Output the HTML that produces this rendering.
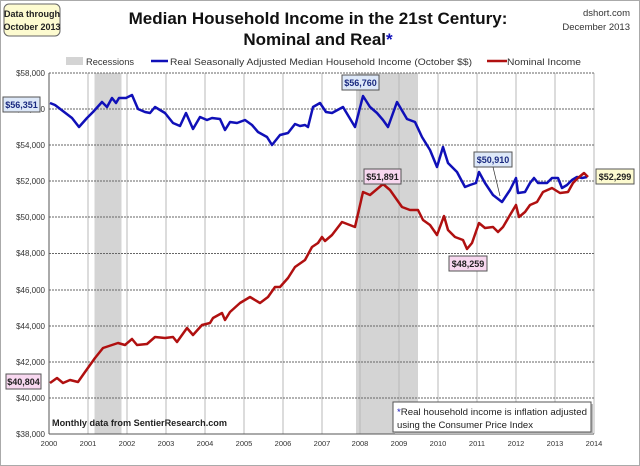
<!DOCTYPE html>
<html><head><meta charset="utf-8"><style>
body{margin:0;background:#fff}
svg{display:block;font-family:"Liberation Sans",sans-serif}
</style></head><body>
<svg width="640" height="466" viewBox="0 0 640 466">
<rect x="0.5" y="0.5" width="639" height="465" fill="#fff" stroke="#aaa"/>
<rect x="94.5" y="73" width="27" height="361" fill="#d4d4d4"/>
<rect x="356" y="73" width="62" height="361" fill="#d4d4d4"/>
<g stroke="#b8b8b8" stroke-width="1">
<line x1="88" y1="73" x2="88" y2="434"/><line x1="127" y1="73" x2="127" y2="434"/><line x1="166" y1="73" x2="166" y2="434"/><line x1="205" y1="73" x2="205" y2="434"/><line x1="244" y1="73" x2="244" y2="434"/><line x1="283" y1="73" x2="283" y2="434"/><line x1="322" y1="73" x2="322" y2="434"/><line x1="360" y1="73" x2="360" y2="434"/><line x1="399" y1="73" x2="399" y2="434"/><line x1="438" y1="73" x2="438" y2="434"/><line x1="477" y1="73" x2="477" y2="434"/><line x1="516" y1="73" x2="516" y2="434"/><line x1="555" y1="73" x2="555" y2="434"/><line x1="594" y1="73" x2="594" y2="434"/>
</g>
<g stroke="#666" stroke-width="1" stroke-dasharray="2,1">
<line x1="49" y1="73" x2="594" y2="73"/><line x1="49" y1="109" x2="594" y2="109"/><line x1="49" y1="145" x2="594" y2="145"/><line x1="49" y1="181" x2="594" y2="181"/><line x1="49" y1="217" x2="594" y2="217"/><line x1="49" y1="253.5" x2="594" y2="253.5"/><line x1="49" y1="290" x2="594" y2="290"/><line x1="49" y1="326" x2="594" y2="326"/><line x1="49" y1="362" x2="594" y2="362"/><line x1="49" y1="398" x2="594" y2="398"/>
</g>
<line x1="49" y1="434" x2="594" y2="434" stroke="#555"/>
<line x1="49" y1="73" x2="49" y2="434" stroke="#555"/>
<g font-size="8" fill="#333" text-anchor="end">
<text x="45" y="76">$58,000</text><text x="45" y="112">$56,000</text><text x="45" y="148">$54,000</text><text x="45" y="184">$52,000</text><text x="45" y="220">$50,000</text><text x="45" y="256">$48,000</text><text x="45" y="293">$46,000</text><text x="45" y="329">$44,000</text><text x="45" y="365">$42,000</text><text x="45" y="401">$40,000</text><text x="45" y="437">$38,000</text>
</g>
<g font-size="7.5" fill="#333" text-anchor="middle">
<text x="49" y="446">2000</text><text x="88" y="446">2001</text><text x="127" y="446">2002</text><text x="166" y="446">2003</text><text x="205" y="446">2004</text><text x="244" y="446">2005</text><text x="283" y="446">2006</text><text x="322" y="446">2007</text><text x="360" y="446">2008</text><text x="399" y="446">2009</text><text x="438" y="446">2010</text><text x="477" y="446">2011</text><text x="516" y="446">2012</text><text x="555" y="446">2013</text><text x="594" y="446">2014</text>
</g>
<polyline fill="none" stroke="#1010b8" stroke-width="2.5" stroke-linejoin="round" points="50,103 55,105 72,118 79,127 87,118 93,112 102,102 107,107 112,98 116,103 119,98 126,98 132,95 138,109 145,112 150,113 155,107 165,113 173,123 180,126 186,113 193,129 200,117 207,120 212,118 220,119 225,130 230,122 237,123 245,120 252,125 258,132 267,137 272,145 280,135 288,133 295,124 300,126 305,125 308,127 313,107 320,103 326,112 332,113 343,107 355,127 363,96 370,107 377,113 383,120 388,127 397,102 407,119 415,122 422,137 430,150 437,167 443,147 448,163 457,172 465,187 470,185 476,183 479,172 485,183 493,195 502,202 510,190 516,178 518,193 525,192 530,183 534,178 538,183 547,183 552,178 558,178 562,188 567,185 572,180 577,177 582,178 587,177"/>
<polyline fill="none" stroke="#b01010" stroke-width="2.5" stroke-linejoin="round" points="50,383 57,378 63,383 70,380 78,382 85,372 95,358 103,348 112,345 118,343 125,345 132,339 137,345 147,344 155,337 165,338 173,337 177,342 187,328 193,335 202,325 210,323 213,318 222,313 225,320 230,312 240,303 250,297 260,303 268,297 275,287 280,287 288,278 295,267 305,260 312,247 318,243 322,237 325,241 332,235 342,222 355,227 363,192 370,195 383,184 390,190 402,207 410,210 418,210 423,220 430,225 437,235 444,216 448,230 455,237 463,240 467,249 472,243 479,223 485,228 493,227 498,232 503,227 510,215 516,205 519,217 525,212 530,205 537,202 543,192 552,188 560,193 568,192 573,183 578,178 584,173 588,177"/>
<text x="318" y="24" font-size="17" font-weight="bold" text-anchor="middle" fill="#111">Median Household Income in the 21st Century:</text>
<text x="318" y="45" font-size="17" font-weight="bold" text-anchor="middle" fill="#111">Nominal and Real<tspan fill="#1010b8">*</tspan></text>
<text x="630" y="16" font-size="9.5" fill="#333" text-anchor="end">dshort.com</text>
<text x="630" y="30" font-size="9.5" fill="#333" text-anchor="end">December 2013</text>
<rect x="4" y="4" width="56" height="32" rx="5" fill="#fdfbd0" stroke="#666"/>
<text x="32" y="17" font-size="9" font-weight="bold" text-anchor="middle" fill="#222">Data through</text>
<text x="32" y="30" font-size="9" font-weight="bold" text-anchor="middle" fill="#222">October 2013</text>
<rect x="66" y="57" width="17" height="8" fill="#d4d4d4"/>
<text x="86" y="65" font-size="9.5" fill="#333" textLength="48" lengthAdjust="spacingAndGlyphs">Recessions</text>
<line x1="151" y1="61" x2="168" y2="61" stroke="#1010b8" stroke-width="2.5"/>
<text x="170" y="65" font-size="9.5" fill="#333" textLength="302" lengthAdjust="spacingAndGlyphs">Real Seasonally Adjusted Median Household Income (October $$)</text>
<line x1="487" y1="61" x2="507" y2="61" stroke="#b01010" stroke-width="2.5"/>
<text x="507" y="65" font-size="9.5" fill="#333" textLength="74" lengthAdjust="spacingAndGlyphs">Nominal Income</text>
<g font-size="9" font-weight="bold">
<rect x="3" y="97" width="37" height="15" fill="#dde8f8" stroke="#555"/><text x="21.5" y="108" text-anchor="middle" fill="#1a2a80">$56,351</text>
<rect x="342" y="75" width="37" height="15" fill="#dde8f8" stroke="#555"/><text x="360.5" y="86" text-anchor="middle" fill="#1a2a80">$56,760</text>
<rect x="474" y="152" width="38" height="15" fill="#dde8f8" stroke="#555"/><text x="493" y="163" text-anchor="middle" fill="#1a2a80">$50,910</text>
<line x1="493" y1="167" x2="500" y2="196" stroke="#333" stroke-width="0.7"/>
<rect x="596" y="169" width="38" height="15" fill="#fdfbd0" stroke="#555"/><text x="615" y="180" text-anchor="middle" fill="#222">$52,299</text>
<rect x="364" y="169" width="37" height="15" fill="#f8d8f0" stroke="#555"/><text x="382.5" y="180" text-anchor="middle" fill="#222">$51,891</text>
<rect x="449" y="256" width="38" height="15" fill="#f8d8f0" stroke="#555"/><text x="468" y="267" text-anchor="middle" fill="#222">$48,259</text>
<rect x="6" y="374" width="35" height="15" fill="#f8d8f0" stroke="#555"/><text x="23.5" y="385" text-anchor="middle" fill="#222">$40,804</text>
</g>
<text x="52" y="441" font-size="9" font-weight="bold" fill="#222" textLength="175" lengthAdjust="spacingAndGlyphs" transform="translate(0,-15)">Monthly data from SentierResearch.com</text>
<rect x="395" y="404" width="198" height="30" fill="#bbb"/>
<rect x="393" y="402" width="198" height="30" fill="#fff" stroke="#555"/>
<text x="397" y="415" font-size="9" fill="#222" textLength="190" lengthAdjust="spacingAndGlyphs"><tspan fill="#1010b8">*</tspan>Real household  income is inflation adjusted</text>
<text x="397" y="428" font-size="9" fill="#222" textLength="136" lengthAdjust="spacingAndGlyphs">using  the Consumer Price Index</text>
</svg>
</body></html>
